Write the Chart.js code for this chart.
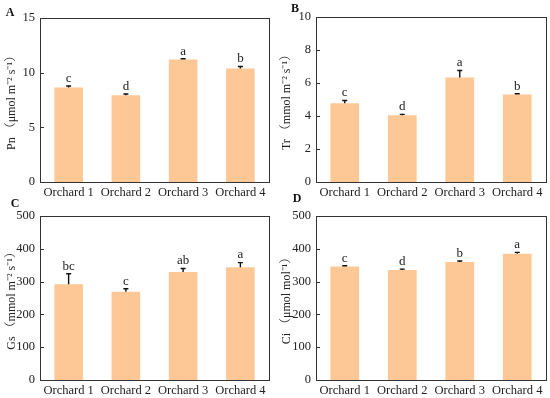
<!DOCTYPE html>
<html>
<head>
<meta charset="utf-8">
<script src="https://cdn.jsdelivr.net/npm/chart.js@4.4.0/dist/chart.umd.min.js"></script>
<style>
  html, body { margin: 0; padding: 0; background: #fff; }
  #wrap { position: relative; width: 550px; height: 398px; }
  .panel { position: absolute; width: 275px; height: 199px; }
  .tag { position: absolute; font: bold 12px 'Liberation Serif', 'Times New Roman', serif; color: #111;
         line-height: 12px; transform: translate(-50%, -50%); }
</style>
</head>
<body>
<div id="wrap">
  <div class="panel" style="left:0;top:0"><canvas id="chartA" width="275" height="199"></canvas></div>
  <div class="panel" style="left:275px;top:0"><canvas id="chartB" width="275" height="199"></canvas></div>
  <div class="panel" style="left:0;top:199px"><canvas id="chartC" width="275" height="199"></canvas></div>
  <div class="panel" style="left:275px;top:199px"><canvas id="chartD" width="275" height="199"></canvas></div>
  <div class="tag" style="left:10px;top:12px">A</div>
  <div class="tag" style="left:295px;top:8px">B</div>
  <div class="tag" style="left:15px;top:203px">C</div>
  <div class="tag" style="left:297px;top:198px">D</div>
</div>
<script>
const categories = ['Orchard 1', 'Orchard 2', 'Orchard 3', 'Orchard 4'];

// A - Pn
const pnMean = [8.65, 7.93, 11.2, 10.39];
const pnErr = [0.13, 0.12, 0.07, 0.18];
const pnLetters = ['c', 'd', 'a', 'b'];

// B - Tr
const trMean = [4.78, 4.05, 6.34, 5.3];
const trErr = [0.16, 0.05, 0.42, 0.05];
const trLetters = ['c', 'd', 'a', 'b'];

// C - Gs
const gsMean = [292, 269, 329, 344];
const gsErr = [32, 9, 11, 14];
const gsLetters = ['bc', 'c', 'ab', 'a'];

// D - Ci
const ciMean = [346, 335, 360, 385];
const ciErr = [2.5, 3, 3, 4];
const ciLetters = ['c', 'd', 'b', 'a'];

const serif = "'Liberation Serif', 'Times New Roman', 'Noto Serif CJK SC', 'Noto Sans CJK SC', serif";
const barColor = '#FDC896';
const inkColor = '#222';

// error bars, letters, frame, inward ticks
const extras = {
  id: 'extras',
  afterDatasetsDraw(chart, args, opts) {
    const ctx = chart.ctx;
    const y = chart.scales.y;
    const meta = chart.getDatasetMeta(0);
    const mean = chart.data.datasets[0].data;
    ctx.save();
    ctx.strokeStyle = '#111';
    ctx.lineWidth = 1.4;
    ctx.fillStyle = inkColor;
    ctx.font = '13px ' + serif;
    ctx.textAlign = 'center';
    ctx.textBaseline = 'bottom';
    meta.data.forEach((bar, i) => {
      const x = bar.x;
      const y0 = y.getPixelForValue(mean[i]);
      const y1 = y.getPixelForValue(mean[i] + opts.err[i]);
      ctx.beginPath();
      ctx.moveTo(x, y0);
      ctx.lineTo(x, y1);
      ctx.moveTo(x - 2.5, y1);
      ctx.lineTo(x + 2.5, y1);
      ctx.stroke();
      ctx.fillText(opts.letters[i], x, y1 - 1);
    });
    ctx.restore();
  },
  afterDraw(chart) {
    const ctx = chart.ctx;
    const a = chart.chartArea;
    const y = chart.scales.y;
    ctx.save();
    ctx.strokeStyle = '#333';
    ctx.lineWidth = 1;
    ctx.strokeRect(Math.round(a.left) + 0.5, Math.round(a.top) + 0.5,
      Math.round(a.right - a.left), Math.round(a.bottom - a.top));
    ctx.beginPath();
    y.ticks.forEach(t => {
      const py = Math.round(y.getPixelForValue(t.value)) + 0.5;
      ctx.moveTo(a.left, py);
      ctx.lineTo(a.left + 4, py);
    });
    ctx.stroke();
    ctx.restore();
  }
};

function makeChart(id, cfg) {
  return new Chart(document.getElementById(id), {
    type: 'bar',
    data: {
      labels: categories,
      datasets: [{
        data: cfg.mean,
        backgroundColor: barColor,
        borderWidth: 0,
        categoryPercentage: 1,
        barPercentage: 0.5
      }]
    },
    options: {
      responsive: false,
      animation: false,
      devicePixelRatio: 1,
      layout: { padding: cfg.pad },
      plugins: {
        legend: { display: false },
        tooltip: { enabled: false },
        extras: { err: cfg.err, letters: cfg.letters }
      },
      scales: {
        x: {
          grid: { display: false, drawTicks: false },
          border: { display: false },
          ticks: { color: inkColor, font: { family: serif, size: 12.5 }, padding: 3, maxRotation: 0 },
          afterFit: s => { s.height = cfg.xh; }
        },
        y: {
          min: 0,
          max: cfg.max,
          grid: { display: false, drawTicks: false },
          border: { display: false },
          ticks: { stepSize: cfg.step, color: inkColor, font: { family: serif, size: 12.5 }, padding: 5 },
          title: { display: true, text: cfg.title, color: inkColor, font: { family: serif, size: 12 }, padding: { top: 5, bottom: 0 } },
          afterFit: s => { s.width = cfg.yw; }
        }
      }
    },
    plugins: [extras]
  });
}

makeChart('chartA', {
  mean: pnMean, err: pnErr, letters: pnLetters, max: 15, step: 5,
  title: 'Pn （μmol m⁻² s⁻¹）',
  pad: { left: 0, right: 6, top: 18, bottom: 0 }, yw: 40, xh: 17
});
makeChart('chartB', {
  mean: trMean, err: trErr, letters: trLetters, max: 10, step: 2,
  title: 'Tr （mmol m⁻² s⁻¹）',
  pad: { left: 0, right: 4, top: 17, bottom: 0 }, yw: 41, xh: 17
});
makeChart('chartC', {
  mean: gsMean, err: gsErr, letters: gsLetters, max: 500, step: 100,
  title: 'Gs （mmol m⁻² s⁻¹）',
  pad: { left: 0, right: 6, top: 17, bottom: 0 }, yw: 40, xh: 18
});
makeChart('chartD', {
  mean: ciMean, err: ciErr, letters: ciLetters, max: 500, step: 100,
  title: 'Ci （μmol mol⁻¹）',
  pad: { left: 0, right: 4, top: 17, bottom: 0 }, yw: 41, xh: 18
});
</script>
</body>
</html>
